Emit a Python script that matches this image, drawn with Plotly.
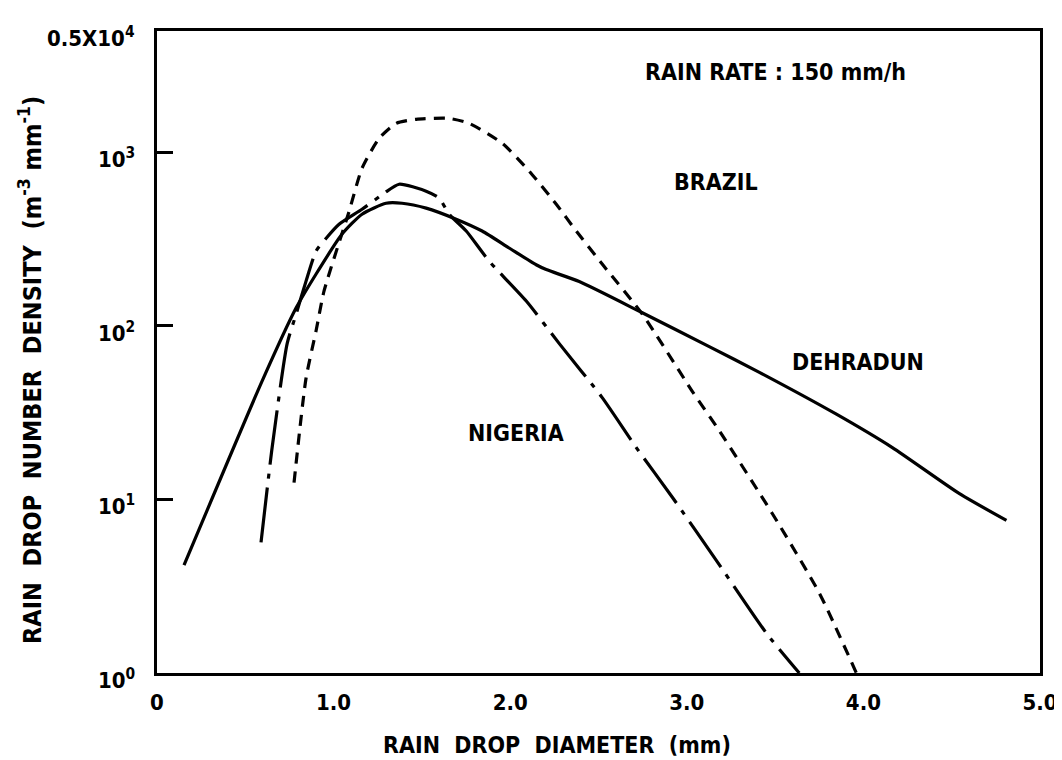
import math
import plotly.graph_objects as go

# ---- data ----
dehradun_x = [0.153, 0.595, 0.788, 0.901, 1.048, 1.161, 1.297, 1.388, 1.524, 1.694, 1.841,
              1.994, 2.147, 2.204, 2.391, 2.748, 3.127, 3.411, 3.847, 4.164, 4.544, 4.810]
dehradun_y = [4.18, 48, 127, 199, 338, 440, 509, 509, 477, 412, 352,
              281, 225, 211, 180, 119, 76, 54, 31, 19.9, 10.8, 7.57]

brazil_x = [0.776, 0.844, 0.901, 0.946, 1.088, 1.161, 1.258, 1.354, 1.467, 1.654, 1.768,
            1.955, 2.108, 2.261, 2.374, 2.521, 2.748, 3.031, 3.184, 3.484, 3.751, 3.960]
brazil_y = [12.5, 50, 94, 159, 458, 809, 1203, 1468, 1549, 1568, 1468,
            1127, 778, 502, 352, 227, 117, 42, 24.9, 8.3, 2.88, 1.0]

nigeria_x = [0.589, 0.652, 0.737, 0.788, 0.844, 0.901, 0.958, 1.031, 1.161, 1.286, 1.371,
             1.524, 1.598, 1.654, 1.751, 1.881, 2.091, 2.278, 2.521, 2.714, 2.918, 3.167,
             3.450, 3.637]
nigeria_y = [5.66, 19.9, 79, 117, 181, 270, 320, 385, 470, 581, 655,
             597, 544, 440, 352, 236, 139, 79, 38.6, 19.9, 10.3, 4.46,
             1.70, 1.0]

x_tickvals = [0, 1, 2, 3, 4, 5]
x_ticktext = ["0", "1.0", "2.0", "3.0", "4.0", "5.0"]
y_tickvals = [1, 10, 100, 1000, 5000]
y_ticktext = ["10<sup>0</sup>", "10<sup>1</sup>", "10<sup>2</sup>", "10<sup>3</sup>",
              "0.5X10<sup>4</sup>"]

FONT = "DejaVu Sans Condensed, Liberation Sans Narrow, sans-serif"
Y_RANGE = [0, math.log10(5000)]

fig = go.Figure()
fig.add_trace(go.Scatter(x=dehradun_x, y=dehradun_y, mode="lines", name="DEHRADUN",
                         line=dict(color="black", width=3.2, shape="spline", smoothing=0.6)))
fig.add_trace(go.Scatter(x=brazil_x, y=brazil_y, mode="lines", name="BRAZIL",
                         line=dict(color="black", width=3.2, dash="11px,8px",
                                   shape="spline", smoothing=0.6)))
fig.add_trace(go.Scatter(x=nigeria_x, y=nigeria_y, mode="lines", name="NIGERIA",
                         line=dict(color="black", width=3.2, dash="55px,9px,5px,9px",
                                   shape="spline", smoothing=0.6)))

# page has an 8px body margin: figure occupies page x 8..1062, y 8..760
fig.update_layout(
    template="none",
    width=1054, height=752,
    margin=dict(l=149, r=22, t=23, b=87, autoexpand=False),
    paper_bgcolor="white", plot_bgcolor="white",
    showlegend=False,
    font=dict(family=FONT, color="black", size=20),
)
fig.update_xaxes(
    range=[0, 5], tickvals=x_tickvals, ticktext=x_ticktext, automargin=False,
    showgrid=False, zeroline=False, showline=True, linecolor="black", linewidth=3,
    mirror=True, ticks="", ticklabelstandoff=8,
    tickfont=dict(family=FONT, size=22, color="black", weight="bold"),
)
fig.update_yaxes(
    type="log", range=Y_RANGE, tickvals=y_tickvals, showticklabels=False,
    automargin=False,
    showgrid=False, zeroline=False, showline=True, linecolor="black", linewidth=3,
    mirror=True, ticks="inside", ticklen=16, tickwidth=2.5, tickcolor="black",
)

# y tick labels, set a little away from the axis as in the hand-lettered original
for v, t in zip(y_tickvals, y_ticktext):
    fig.add_annotation(text=t, xref="paper", yref="y", x=(137 - 157) / 883,
                       y=math.log10(v), xanchor="right", yanchor="middle",
                       yshift=-6, showarrow=False,
                       font=dict(family=FONT, size=22, color="black", weight="bold"))


def label(text, px, py, size=23, angle=0):
    fig.add_annotation(text=text, xref="paper", yref="paper",
                       x=(px - 157) / 883, y=(673 - py) / 642,
                       xanchor="center", yanchor="middle", textangle=angle,
                       showarrow=False,
                       font=dict(family=FONT, size=size, color="black", weight="bold"))


label("RAIN RATE : 150 mm/h", 775, 72)
label("BRAZIL", 716, 182)
label("DEHRADUN", 858, 362)
label("NIGERIA", 516, 433)
label("RAIN  DROP  DIAMETER  (mm)", 557, 745)
label("RAIN  DROP  NUMBER  DENSITY  (m<sup>-3</sup> mm<sup>-1</sup>)", 30, 370,
      size=25, angle=-90)

fig.write_html("out.html")
